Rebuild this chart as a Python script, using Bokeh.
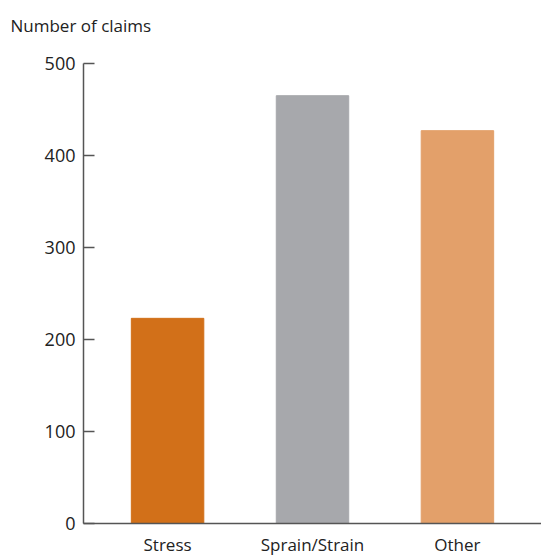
from bokeh.plotting import figure
from bokeh.embed import file_html
from bokeh.resources import INLINE
from bokeh.models import ColumnDataSource, FixedTicker, Title

categories = ["Stress", "Sprain/Strain", "Other"]
claims = [223, 465, 427]
colors = ["#D27019", "#A7A8AC", "#E3A06A"]
y_ticks = [0, 100, 200, 300, 400, 500]
y_title = "Number of claims"

src = ColumnDataSource(dict(cat=categories, val=claims, col=colors))

FONT = "Open Sans"
TXT = "#222222"

p = figure(x_range=categories, y_range=(0, 500), width=541, height=558,
           output_backend="svg", toolbar_location=None,
           min_border_left=83, min_border_right=0, min_border_top=63,
           min_border_bottom=34)
p.x_range.range_padding = 0.08
p.x_range.range_padding_units = "absolute"

p.vbar(x="cat", top="val", width=0.5, color="col", source=src)

spacer = Title(text=".", text_font_size="1px", text_color="white",
               standoff=24, align="left")
p.add_layout(spacer, "above")
ttl = Title(text=y_title, text_font=FONT, text_font_size="17px",
            text_font_style="normal", text_color=TXT, align="left",
            offset=-73, standoff=0)
p.add_layout(ttl, "above")

p.outline_line_color = None
p.xgrid.grid_line_color = None
p.ygrid.grid_line_color = None
p.background_fill_color = "white"
p.border_fill_color = "white"

ya = p.yaxis[0]
ya.ticker = FixedTicker(ticks=y_ticks)
ya.major_tick_in = 11
ya.major_tick_out = 0
ya.minor_tick_line_color = None
ya.axis_line_color = "#555555"
ya.axis_line_width = 1.5
ya.major_tick_line_color = "#555555"
ya.major_tick_line_width = 1.5
ya.major_label_text_font = FONT
ya.major_label_text_font_size = "18px"
ya.major_label_text_color = TXT
ya.major_label_standoff = 8

xa = p.xaxis[0]
xa.major_tick_line_color = None
xa.minor_tick_line_color = None
xa.axis_line_color = "#555555"
xa.axis_line_width = 1.5
xa.major_label_text_font = FONT
xa.major_label_text_font_size = "17px"
xa.major_label_text_color = TXT
xa.major_label_standoff = 3

open("out.html", "w").write(file_html(p, INLINE))
